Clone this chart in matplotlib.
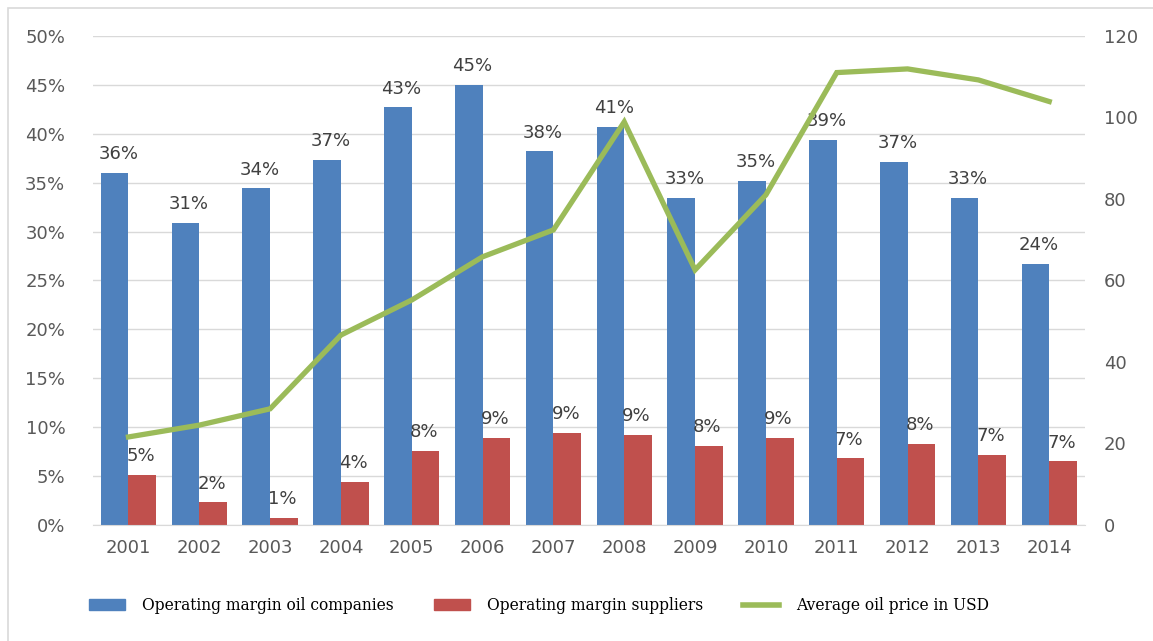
import matplotlib.pyplot as plt
import numpy as np
from matplotlib.patches import Rectangle
from matplotlib.lines import Line2D

years = ['2001', '2002', '2003', '2004', '2005', '2006', '2007',
         '2008', '2009', '2010', '2011', '2012', '2013', '2014']
oil_companies = [36.0, 30.9, 34.4, 37.3, 42.7, 45.0, 38.2,
                 40.7, 33.4, 35.2, 39.4, 37.1, 33.4, 26.7]
oil_labels = ['36%', '31%', '34%', '37%', '43%', '45%', '38%',
              '41%', '33%', '35%', '39%', '37%', '33%', '24%']
suppliers = [5.1, 2.3, 0.7, 4.4, 7.6, 8.9, 9.4,
             9.2, 8.1, 8.9, 6.8, 8.3, 7.2, 6.5]
supplier_labels = ['5%', '2%', '1%', '4%', '8%', '9%', '9%',
                   '9%', '8%', '9%', '7%', '8%', '7%', '7%']
oil_price = [21.6, 24.5, 28.5, 46.6, 55.2, 65.8, 72.4,
             98.9, 62.6, 81.0, 111.0, 111.9, 109.2, 103.9]

blue = '#4F81BD'
red = '#C0504D'
green = '#9BBB59'
grey = '#595959'

fig = plt.figure(figsize=(11.53, 6.41), dpi=100)
fig.patches.append(Rectangle((0.007, -0.01), 1.0, 0.998, transform=fig.transFigure,
                             fill=False, edgecolor='#D9D9D9', linewidth=1.2))

ax = fig.add_axes([0.0807, 0.181, 0.860, 0.763])
x = np.arange(len(years))
w = 0.39
ax.bar(x - w / 2, oil_companies, w, color=blue, zorder=2)
ax.bar(x + w / 2, suppliers, w, color=red, zorder=2)

for i in range(len(years)):
    ax.text(x[i] - w / 2 + 0.05, oil_companies[i] + 1.0, oil_labels[i], ha='center',
            va='bottom', fontsize=13, color='#404040', zorder=5)
    ax.text(x[i] + w / 2 - 0.02, suppliers[i] + 1.0, supplier_labels[i], ha='center',
            va='bottom', fontsize=13, color='#404040', zorder=5)

ax.set_xlim(-0.5, len(years) - 0.5)
ax.set_ylim(0, 50)
ax.set_yticks(range(0, 51, 5))
ax.set_yticklabels([f'{v}%' for v in range(0, 51, 5)])
ax.set_xticks(x)
ax.set_xticklabels(years)
ax.grid(axis='y', color='#D9D9D9', linewidth=1, zorder=0)
for s in ['top', 'right', 'left']:
    ax.spines[s].set_visible(False)
ax.spines['bottom'].set_color('#D9D9D9')
ax.tick_params(axis='both', length=0, labelsize=13, labelcolor=grey)
ax.tick_params(axis='y', pad=20)
ax.tick_params(axis='x', pad=10)

# oil price on the right axis, drawn over the bars
ax2 = ax.twinx()
ax2.plot(x, oil_price, color=green, linewidth=3.8, solid_joinstyle='miter', zorder=4)
ax2.set_ylim(0, 120)
ax2.set_yticks(range(0, 121, 20))
for s in ['top', 'right', 'left', 'bottom']:
    ax2.spines[s].set_visible(False)
ax2.tick_params(axis='y', length=0, labelsize=13, labelcolor=grey, pad=14)
ax2.patch.set_visible(False)

handles = [Rectangle((0, 0), 1, 1, color=blue),
           Rectangle((0, 0), 1, 1, color=red),
           Line2D([0], [0], color=green, linewidth=4)]
names = ['Operating margin oil companies', 'Operating margin suppliers',
         'Average oil price in USD']
fig.legend(handles, names, loc='center', bbox_to_anchor=(0.4675, 0.055), ncol=3,
           frameon=False, prop={'family': 'DejaVu Serif', 'size': 11.2},
           columnspacing=2.6, handlelength=2.3, handletextpad=1.1)

fig.savefig('out.png', dpi=100)
